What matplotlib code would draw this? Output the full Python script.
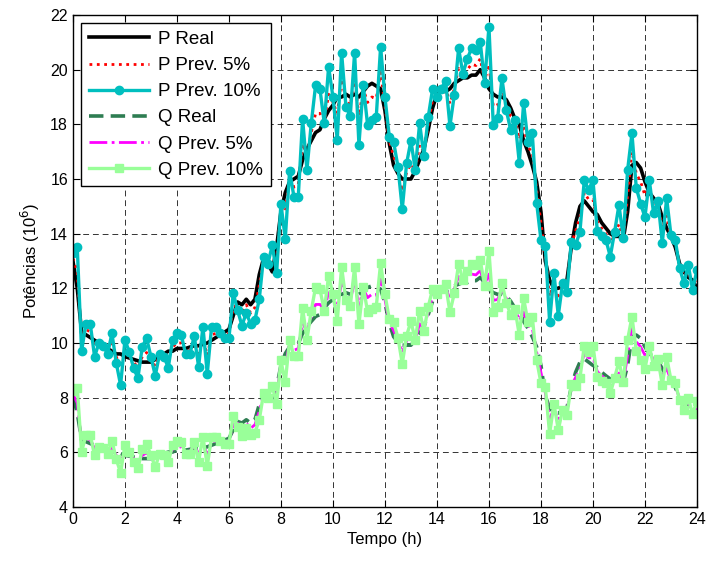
import numpy as np
import matplotlib
matplotlib.use("Agg")
import matplotlib.pyplot as plt

plt.rcParams["font.family"] = ["Liberation Sans", "DejaVu Sans"]

# time axis: one sample every 10 minutes over 24 h
tempo = np.linspace(0, 24, 145)

p_real = [
    13.0, 12.0, 10.4, 10.3, 10.2, 10.1,
    10.0, 9.9, 9.8, 9.7, 9.6, 9.6,
    9.5, 9.45, 9.4, 9.35, 9.3, 9.3,
    9.3, 9.4, 9.5, 9.6, 9.7, 9.7,
    9.8, 9.8, 9.8, 9.85, 9.9, 9.9,
    9.95, 10.0, 10.1, 10.2, 10.3, 10.4,
    10.5, 11.0, 11.5, 11.4, 11.6, 11.4,
    11.6, 12.5, 13.1, 12.9, 12.6, 13.5,
    14.8, 15.5, 15.9, 16.0, 16.1, 16.7,
    17.1, 17.4, 17.7, 17.8, 18.2, 18.5,
    18.7, 19.0, 19.0, 19.1, 19.0, 19.1,
    19.0, 19.2, 19.4, 19.5, 19.4, 19.3,
    18.5, 17.3, 16.5, 16.2, 16.0, 16.0,
    16.0, 16.3, 16.7, 17.1, 17.8, 18.6,
    19.1, 19.2, 19.2, 19.3, 19.5, 19.6,
    19.7, 19.7, 19.8, 19.8, 20.0, 19.7,
    19.3, 19.1, 19.0, 19.0, 18.9, 18.6,
    18.2, 18.0, 17.4, 17.0, 16.5, 15.9,
    14.8, 13.0, 12.3, 12.0, 12.0, 12.1,
    12.3, 13.5, 14.4, 15.0, 15.2, 15.0,
    14.8, 14.7, 14.4, 14.2, 14.0, 13.9,
    13.9, 13.8, 14.8, 16.5, 16.6, 16.4,
    15.9, 15.5, 15.3, 15.1, 14.6, 14.2,
    13.9, 13.5, 12.9, 12.6, 12.4, 12.3,
    12.0,
]

p_prev5 = [
    13.1, 12.6, 10.1, 10.5, 10.4, 9.9,
    10.0, 9.9, 9.7, 10.0, 9.5, 9.1,
    9.7, 9.5, 9.3, 9.1, 9.5, 9.65,
    9.4, 9.15, 9.55, 9.55, 9.45, 9.85,
    10.0, 10.0, 9.7, 9.75, 10.05, 9.6,
    10.2, 9.55, 10.3, 10.35, 10.3, 10.3,
    10.35, 11.3, 11.4, 11.1, 11.4, 11.1,
    11.3, 12.1, 13.1, 12.9, 13.0, 13.1,
    14.9, 14.8, 16.1, 15.7, 15.8, 17.3,
    16.8, 17.7, 18.4, 18.4, 18.1, 19.1,
    18.8, 18.4, 19.65, 18.9, 18.7, 19.7,
    18.3, 19.3, 18.8, 19.0, 18.95, 19.9,
    18.7, 17.4, 16.85, 16.3, 15.55, 16.25,
    16.55, 16.3, 17.25, 17.0, 18.0, 18.9,
    19.05, 19.25, 19.35, 18.75, 19.3, 20.05,
    19.75, 20.0, 20.2, 20.15, 20.4, 19.6,
    20.2, 18.65, 18.7, 19.3, 18.75, 18.3,
    18.2, 17.45, 17.95, 17.15, 17.0, 15.6,
    14.4, 13.2, 11.7, 12.2, 11.6, 12.15,
    12.1, 13.6, 14.1, 14.6, 15.5, 15.25,
    15.25, 14.45, 14.2, 14.0, 13.65, 13.95,
    14.35, 13.8, 15.4, 17.0, 16.2, 15.9,
    15.4, 15.7, 15.1, 15.15, 14.2, 14.65,
    13.9, 13.6, 12.85, 12.45, 12.6, 12.15,
    12.25,
]

p_prev10 = [
    13.3, 13.5, 9.7, 10.7, 10.7, 9.5,
    10.0, 9.9, 9.6, 10.35, 9.27, 8.46,
    10.1, 9.68, 9.08, 8.72, 9.86, 10.18,
    9.5, 8.8, 9.6, 9.5, 9.1, 10.1,
    10.35, 10.29, 9.6, 9.6, 10.25, 9.13,
    10.6, 8.87, 10.6, 10.6, 10.35, 10.2,
    10.17, 11.82, 11.2, 10.63, 11.1, 10.7,
    10.84, 11.6, 13.16, 12.9, 13.58, 12.55,
    15.1, 13.8, 16.3, 15.35, 15.35, 18.2,
    16.33, 18.04, 19.43, 19.3, 18.04, 20.1,
    19.0, 17.43, 20.62, 18.65, 18.3, 20.62,
    17.25, 19.43, 17.97, 18.16, 18.28, 20.84,
    19.0, 17.55, 17.36, 16.45, 14.9, 16.57,
    17.4, 16.33, 18.04, 16.84, 18.28, 19.3,
    19.0, 19.3, 19.6, 17.94, 19.07, 20.78,
    19.84, 20.4, 20.78, 20.72, 21.0, 19.52,
    21.57, 17.97, 18.22, 19.68, 18.52, 17.8,
    18.16, 16.6, 18.77, 17.36, 17.67, 15.13,
    13.77, 13.55, 10.77, 12.55, 11.0, 12.2,
    11.86, 13.7, 13.58, 14.07, 15.96, 15.6,
    15.96, 14.1, 13.9, 13.77, 13.16, 14.07,
    15.05, 13.84, 16.33, 17.67, 15.67, 15.1,
    14.6, 15.96, 14.74, 15.2, 13.65, 15.3,
    13.95, 13.77, 12.74, 12.19, 12.85, 11.94,
    12.67,
]

q_real = [
    8.06, 7.44, 6.45, 6.39, 6.32, 6.26,
    6.20, 6.14, 6.08, 6.01, 5.95, 5.95,
    5.89, 5.86, 5.83, 5.80, 5.77, 5.77,
    5.77, 5.83, 5.89, 5.95, 6.01, 6.01,
    6.08, 6.08, 6.08, 6.11, 6.14, 6.14,
    6.17, 6.20, 6.26, 6.32, 6.39, 6.45,
    6.51, 6.82, 7.13, 7.07, 7.19, 7.07,
    7.19, 7.75, 8.12, 8.00, 7.81, 8.37,
    9.18, 9.61, 9.86, 9.92, 9.98, 10.35,
    10.60, 10.79, 10.97, 11.04, 11.28, 11.47,
    11.59, 11.78, 11.78, 11.84, 11.78, 11.84,
    11.78, 11.90, 12.03, 12.09, 12.03, 11.97,
    11.47, 10.73, 10.23, 10.04, 9.92, 9.92,
    9.92, 10.11, 10.35, 10.60, 11.04, 11.53,
    11.84, 11.90, 11.90, 11.97, 12.09, 12.15,
    12.21, 12.21, 12.28, 12.28, 12.40, 12.21,
    11.97, 11.84, 11.78, 11.78, 11.72, 11.53,
    11.28, 11.16, 10.79, 10.54, 10.23, 9.86,
    9.18, 8.06, 7.63, 7.44, 7.44, 7.50,
    7.63, 8.37, 8.93, 9.30, 9.42, 9.30,
    9.18, 9.11, 8.93, 8.80, 8.68, 8.62,
    8.62, 8.56, 9.18, 10.23, 10.29, 10.17,
    9.86, 9.61, 9.49, 9.36, 9.05, 8.80,
    8.62, 8.37, 8.00, 7.81, 7.69, 7.63,
    7.44,
]

q_prev5 = [
    8.12, 7.81, 6.26, 6.51, 6.45, 6.14,
    6.20, 6.14, 6.01, 6.20, 5.89, 5.64,
    6.01, 5.89, 5.77, 5.64, 5.89, 5.98,
    5.83, 5.67, 5.92, 5.92, 5.86, 6.11,
    6.20, 6.20, 6.01, 6.05, 6.23, 5.95,
    6.32, 5.92, 6.39, 6.42, 6.39, 6.39,
    6.42, 7.01, 7.07, 6.88, 7.07, 6.88,
    7.01, 7.50, 8.12, 8.00, 8.06, 8.12,
    9.24, 9.18, 9.98, 9.73, 9.80, 10.73,
    10.42, 10.97, 11.41, 11.41, 11.22, 11.84,
    11.66, 11.41, 12.18, 11.72, 11.59, 12.21,
    11.35, 11.97, 11.66, 11.78, 11.75, 12.34,
    11.59, 10.79, 10.45, 10.11, 9.64, 10.08,
    10.26, 10.11, 10.70, 10.54, 11.16, 11.72,
    11.81, 11.94, 12.00, 11.63, 11.97, 12.43,
    12.25, 12.40, 12.52, 12.49, 12.65, 12.15,
    12.52, 11.56, 11.59, 11.97, 11.63, 11.35,
    11.28, 10.82, 11.13, 10.63, 10.54, 9.67,
    8.93, 8.18, 7.25, 7.56, 7.19, 7.53,
    7.50, 8.43, 8.74, 9.05, 9.61, 9.46,
    9.46, 8.96, 8.80, 8.68, 8.46, 8.65,
    8.90, 8.56, 9.55, 10.54, 10.04, 9.86,
    9.55, 9.73, 9.36, 9.39, 8.80, 9.08,
    8.62, 8.43, 7.97, 7.72, 7.81, 7.53,
    7.60,
]

q_prev10 = [
    8.25, 8.37, 6.01, 6.63, 6.63, 5.89,
    6.20, 6.14, 5.95, 6.42, 5.75, 5.25,
    6.26, 6.00, 5.63, 5.41, 6.11, 6.31,
    5.89, 5.46, 5.95, 5.89, 5.64, 6.26,
    6.42, 6.38, 5.95, 5.95, 6.36, 5.66,
    6.57, 5.50, 6.57, 6.57, 6.42, 6.32,
    6.31, 7.33, 6.94, 6.59, 6.88, 6.63,
    6.72, 7.19, 8.16, 8.00, 8.42, 7.78,
    9.36, 8.56, 10.11, 9.52, 9.52, 11.28,
    10.12, 11.18, 12.05, 11.97, 11.18, 12.46,
    11.78, 10.81, 12.78, 11.56, 11.35, 12.78,
    10.70, 12.05, 11.14, 11.26, 11.33, 12.92,
    11.78, 10.88, 10.76, 10.20, 9.24, 10.27,
    10.79, 10.12, 11.18, 10.44, 11.33, 11.97,
    11.78, 11.97, 12.15, 11.12, 11.82, 12.88,
    12.30, 12.65, 12.88, 12.85, 13.02, 12.10,
    13.37, 11.14, 11.30, 12.20, 11.48, 11.04,
    11.26, 10.29, 11.64, 10.76, 10.96, 9.38,
    8.54, 8.40, 6.68, 7.78, 6.82, 7.56,
    7.35, 8.49, 8.42, 8.72, 9.90, 9.67,
    9.90, 8.74, 8.62, 8.54, 8.16, 8.72,
    9.33, 8.58, 10.12, 10.96, 9.72, 9.36,
    9.05, 9.90, 9.14, 9.42, 8.46, 9.49,
    8.65, 8.54, 7.90, 7.56, 7.97, 7.40,
    7.86,
]

fig = plt.figure(figsize=(7.08, 5.63), dpi=100)
ax = fig.add_axes([0.103, 0.0995, 0.8814, 0.8739])

ax.plot(tempo, p_real, color="black", lw=2.6, label="P Real")
ax.plot(tempo, p_prev5, color="red", lw=2.0, ls=":", label="P Prev. 5%")
ax.plot(tempo, p_prev10, color="#00BFBF", lw=2.4, marker="o", ms=6,
        label="P Prev. 10%")
ax.plot(tempo, q_real, color="#2E7D52", lw=2.6, ls="--", dashes=(4, 2),
        label="Q Real")
ax.plot(tempo, q_prev5, color="magenta", lw=2.0, ls="-.", label="Q Prev. 5%")
ax.plot(tempo, q_prev10, color="#99FF99", lw=2.4, marker="s", ms=6,
        label="Q Prev. 10%")

ax.set_xlim(0, 24)
ax.set_ylim(4, 22)
ax.set_xticks(range(0, 25, 2))
ax.set_yticks(range(4, 23, 2))
ax.tick_params(direction="in", top=True, right=True, length=5,
               labelsize=11.5, width=0.8)
ax.grid(True, color="black", ls=(0, (6, 4)), lw=0.7, alpha=0.8)
for s in ax.spines.values():
    s.set_linewidth(1.0)

ax.set_xlabel("Tempo (h)", fontsize=12, labelpad=4)
ax.set_ylabel("Potências (10$^6$)", fontsize=12, labelpad=6)

leg = ax.legend(loc="upper left", fontsize=13.5, handlelength=3.2,
                numpoints=1, fancybox=False, framealpha=1,
                edgecolor="black", borderaxespad=0.45, labelspacing=0.48,
                handletextpad=0.5, borderpad=0.4)
leg.get_frame().set_linewidth(1.0)

fig.savefig("out.png", dpi=100)
